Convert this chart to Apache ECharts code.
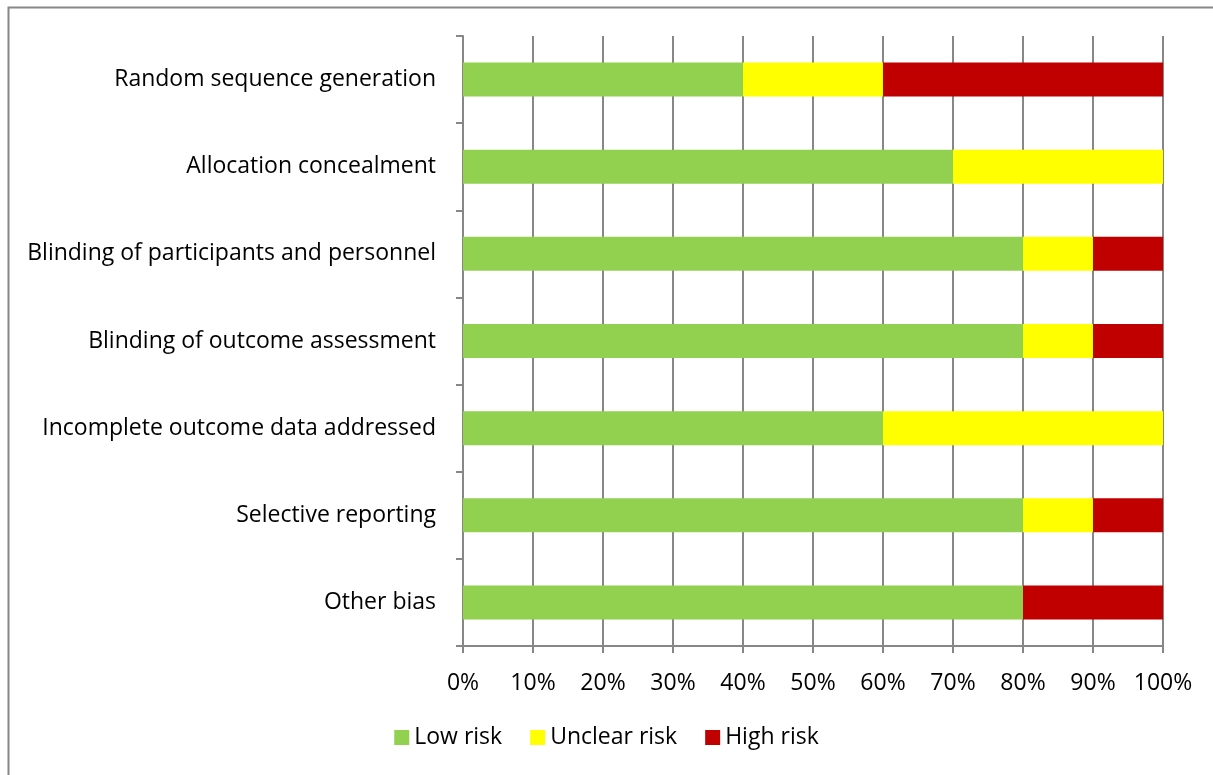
<!DOCTYPE html>
<html>
<head>
<meta charset="utf-8">
<script src="https://cdn.jsdelivr.net/npm/echarts@6/dist/echarts.min.js"></script>
<style>
  html, body { margin: 0; padding: 0; background: #fff; }
  #chart { width: 1213px; height: 775px; }
</style>
</head>
<body>
<div id="chart"></div>
<script>
// categories top to bottom
var domains = [
  "Random sequence generation",
  "Allocation concealment",
  "Blinding of participants and personnel",
  "Blinding of outcome assessment",
  "Incomplete outcome data addressed",
  "Selective reporting",
  "Other bias"
];
var lowRisk = [40, 70, 80, 80, 60, 80, 80];
var unclearRisk = [20, 30, 10, 10, 40, 10, 0];
var highRisk = [40, 0, 10, 10, 0, 10, 20];

var font = "'Open Sans', 'Noto Sans', sans-serif";

function bar(name, data, color) {
  return {
    name: name,
    type: "bar",
    stack: "total",
    data: data,
    barWidth: 34,
    itemStyle: { color: color },
    emphasis: { disabled: true }
  };
}

var chart = echarts.init(document.getElementById("chart"));
chart.setOption({
  animation: false,
  graphic: [{
    type: "rect",
    shape: { x: 8.5, y: 7.5, width: 1400, height: 900 },
    style: { fill: "none", stroke: "#878787", lineWidth: 2 },
    silent: true
  }],
  grid: { left: 463, right: 50, top: 36, bottom: 129 },
  legend: {
    bottom: 21,
    left: "center",
    itemWidth: 15,
    itemHeight: 15,
    itemGap: 28,
    icon: "rect",
    textStyle: { fontFamily: font, fontSize: 23, color: "#000" },
    data: ["Low risk", "Unclear risk", "High risk"]
  },
  xAxis: {
    type: "value",
    min: 0,
    max: 100,
    interval: 10,
    axisLine: { show: true, lineStyle: { color: "#878787", width: 2 } },
    axisTick: { show: true, length: 7, lineStyle: { color: "#878787", width: 2 } },
    splitLine: { show: true, lineStyle: { color: "#878787", width: 2 } },
    axisLabel: {
      margin: 26,
      color: "#000",
      fontFamily: font,
      fontSize: 23,
      formatter: "{value}%"
    }
  },
  yAxis: {
    type: "category",
    inverse: true,
    data: domains,
    axisLine: { show: true, lineStyle: { color: "#878787", width: 2 } },
    axisTick: { show: true, length: 7, lineStyle: { color: "#878787", width: 2 } },
    axisLabel: {
      margin: 27,
      color: "#000",
      fontFamily: font,
      fontSize: 23
    }
  },
  series: [
    bar("Low risk", lowRisk, "#92d050"),
    bar("Unclear risk", unclearRisk, "#ffff00"),
    bar("High risk", highRisk, "#c00000")
  ]
});
</script>
</body>
</html>
